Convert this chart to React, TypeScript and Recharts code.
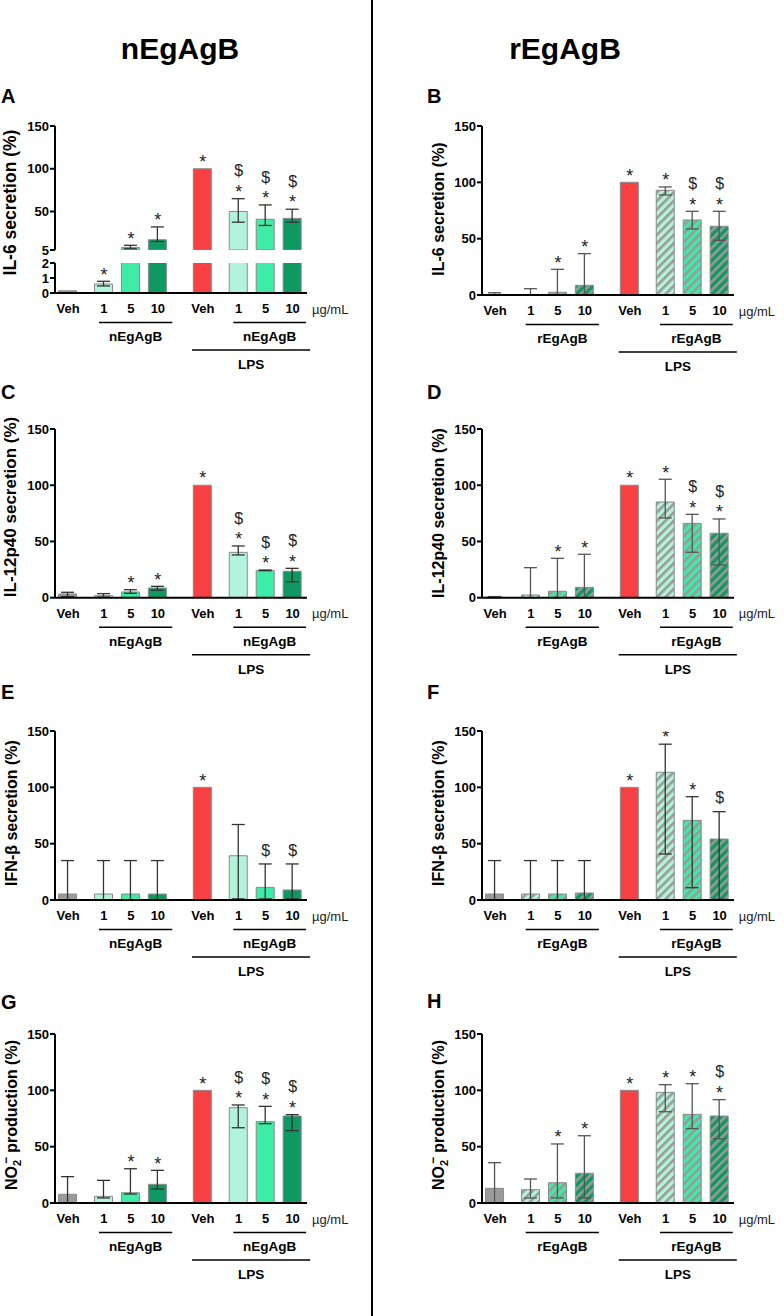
import React from "react";
import { ComposedChart, Bar, XAxis, YAxis, ErrorBar, Scatter, Cell } from "recharts";

const FONT = "Arial, 'Liberation Sans', Helvetica, sans-serif";

// x categories (same for every panel)
const categories = ["Veh", "1", "5", "10", "Veh", "1", "5", "10"];

// A - IL-6, nEgAgB
const il6N = [0.15, 0.6, 8, 17, 100, 50, 41, 42];
const il6NLow = [null, 0.47, 6.5, 15, null, 37.5, 33.7, 37.5];
const il6NHigh = [null, 0.78, 10.5, 32, null, 65, 57.7, 52.7];
const il6NMarks = ["", "*", "*", "*", "*", "$*", "$*", "$*"];

// B - IL-6, rEgAgB
const il6R = [0.5, 0.5, 2.4, 8.6, 100, 92.9, 66.6, 61];
const il6RLow = [0, 0, 0, 0, null, 88.8, 58.6, 48.5];
const il6RHigh = [2, 5.6, 22.8, 36.7, null, 95.9, 74.3, 74.3];
const il6RMarks = ["", "", "*", "*", "*", "*", "$*", "$*"];

// C - IL-12p40, nEgAgB
const il12N = [3.3, 1.8, 5.1, 8.6, 100, 40.3, 24.3, 23.5];
const il12NLow = [1, 0.5, 3.9, 6.6, null, 38, 24, 14.2];
const il12NHigh = [4.8, 3.6, 7.1, 10.1, null, 46, 24.6, 26.1];
const il12NMarks = ["", "", "*", "*", "*", "$*", "$*", "$*"];

// D - IL-12p40, rEgAgB
const il12R = [0.5, 2.4, 5.7, 9.2, 100, 85.1, 66.1, 57.3];
const il12RLow = [0, 0, 0, 0, null, 70.9, 40.4, 29.1];
const il12RHigh = [1, 26.7, 35, 38.6, null, 105.3, 74.1, 70];
const il12RMarks = ["", "", "*", "*", "*", "*", "$*", "$*"];

// E - IFN-beta, nEgAgB
const ifnN = [5.3, 5.3, 5.3, 5.3, 100, 39.3, 11.2, 8.9];
const ifnNLow = [0, 0, 0, 0, null, 1, 1, 1];
const ifnNHigh = [35, 35, 35, 35, null, 67, 32, 32];
const ifnNMarks = ["", "", "", "", "*", "", "$", "$"];

// F - IFN-beta, rEgAgB
const ifnR = [5.3, 5.3, 5.3, 6.2, 100, 113.4, 70.7, 54.1];
const ifnRLow = [0, 0, 0, 0, null, 40.8, 10.9, 0.6];
const ifnRHigh = [35, 35, 35, 35, null, 138.3, 91.7, 78.4];
const ifnRMarks = ["", "", "", "", "*", "*", "*", "$"];

// G - NO2-, nEgAgB
const no2N = [7.7, 5.9, 9.1, 16.6, 100, 84.6, 72.2, 77.2];
const no2NLow = [0, 4.5, 8, 12.4, null, 66.8, 70.4, 64.2];
const no2NHigh = [23.4, 20.1, 30.4, 29, null, 87, 85.8, 78.4];
const no2NMarks = ["", "", "*", "*", "*", "$*", "$*", "$*"];

// H - NO2-, rEgAgB
const no2R = [13, 11.8, 18, 26.4, 100, 98.2, 78.7, 77.2];
const no2RLow = [0, 4.4, 4.5, 4.5, null, 81, 66, 57];
const no2RHigh = [35.8, 21.3, 52.4, 59.7, null, 105, 105.9, 91.7];
const no2RMarks = ["", "", "*", "*", "*", "*", "*", "$*"];

// layout
const SLOTS = [0, 4, 7, 10, 15, 19, 22, 25];
const X_DOMAIN: [number, number] = [-1.45, 26.6];
const LEFT_X = 55;
const RIGHT_X = 481.7;
const PLOT_W = 252;
const YW = 55;
const MT = 45;
const MR = 4;
const XH = 30;

const GREY = "#9b9b9b";
const RED = "#f74143";
const C1 = "#b2f3db";
const C5 = "#3eeca8";
const C10 = "#0e9963";
const STRIPE = "#9a9a9a";

const leftFills = [GREY, C1, C5, C10, RED, C1, C5, C10];
const rightFills = [GREY, "url(#st1)", "url(#st5)", "url(#st10)", RED, "url(#st1)", "url(#st5)", "url(#st10)"];

type Row = {
  slot: number;
  value: number | null;
  err: [number, number] | null;
  markY: number | null;
  mark: string;
};

function buildRows(values: number[], low: (number | null)[], high: (number | null)[], marks: string[]): Row[] {
  return values.map((v, i) => {
    const lo = low[i];
    const hi = high[i];
    return {
      slot: SLOTS[i],
      value: v,
      err: lo == null || hi == null ? null : [v - lo, hi - v],
      markY: marks[i] ? Math.max(v, hi ?? v) : null,
      mark: marks[i],
    };
  });
}

function slotPx(axisX: number, s: number) {
  return axisX + ((s - X_DOMAIN[0]) / (X_DOMAIN[1] - X_DOMAIN[0])) * PLOT_W;
}

const STAR_FS = 18;
const DOL_FS = 16;

function MarkShape(props: any) {
  const { cx, cy, payload } = props;
  if (!payload || !payload.mark || cx == null || cy == null || isNaN(cy)) return <g />;
  const m: string = payload.mark;
  const hasStar = m.includes("*");
  const hasDollar = m.includes("$");
  const starC = cy - 11;
  const dolC = hasStar ? starC - 17 : cy - 14;
  return (
    <g fill="#222" fontFamily={FONT} textAnchor="middle">
      {hasStar && (
        <text x={cx} y={starC + 0.57 * STAR_FS} fontSize={STAR_FS}>
          *
        </text>
      )}
      {hasDollar && (
        <text x={cx} y={dolC + 0.36 * DOL_FS} fontSize={DOL_FS}>
          $
        </text>
      )}
    </g>
  );
}

type PanelProps = {
  axisX: number;
  yTop: number;
  yBottom: number;
  domain: [number, number];
  ticks: number[];
  rows: Row[];
  fills: string[];
  errColor: string;
  showX?: boolean;
};

function BarPanel({ axisX, yTop, yBottom, domain, ticks, rows, fills, errColor, showX = true }: PanelProps) {
  const plotH = yBottom - yTop;
  const xh = showX ? XH : 0;
  const mb = showX ? 0 : 10;
  const tickStyle = { fill: "#000", fontSize: 13, fontWeight: 700, fontFamily: FONT };
  return (
    <div style={{ position: "absolute", left: axisX - YW, top: yTop - MT }}>
      <ComposedChart
        width={YW + PLOT_W + MR}
        height={MT + plotH + xh + mb}
        data={rows}
        margin={{ top: MT, right: MR, left: 0, bottom: mb }}
      >
        <XAxis
          dataKey="slot"
          type="number"
          domain={X_DOMAIN}
          allowDataOverflow
          ticks={SLOTS}
          interval={0}
          tickFormatter={(v: number) => categories[SLOTS.indexOf(v)] ?? ""}
          hide={!showX}
          height={xh}
          axisLine={{ stroke: "#000", strokeWidth: 2 }}
          tickLine={false}
          tickSize={6}
          tickMargin={5}
          tick={tickStyle}
        />
        <YAxis
          type="number"
          domain={domain}
          ticks={ticks}
          interval={0}
          allowDataOverflow
          width={YW}
          axisLine={{ stroke: "#000", strokeWidth: 2 }}
          tickLine={{ stroke: "#000", strokeWidth: 2 }}
          tickSize={5}
          tickMargin={1}
          tick={tickStyle}
        />
        <Bar dataKey="value" barSize={18} isAnimationActive={false} stroke="#8a8a8a" strokeWidth={1}>
          {rows.map((r, i) => (
            <Cell key={i} fill={fills[i]} />
          ))}
          <ErrorBar dataKey="err" width={6.5} stroke={errColor} strokeWidth={1.3} isAnimationActive={false} />
        </Bar>
        <Scatter dataKey="markY" shape={MarkShape} isAnimationActive={false} />
      </ComposedChart>
    </div>
  );
}

function GroupDecor({ axisX, axisY, label }: { axisX: number; axisY: number; label: string }) {
  const g1 = [slotPx(axisX, 3.45), slotPx(axisX, 11.6)];
  const g2 = [slotPx(axisX, 18.4), slotPx(axisX, 26.5)];
  const lps = [slotPx(axisX, 13.8), slotPx(axisX, 26.95)];
  const end = axisX + PLOT_W;
  const txt = { fontFamily: FONT, fontSize: 13.5, fontWeight: 700, fill: "#000", textAnchor: "middle" as const };
  return (
    <g>
      <text x={end + 5} y={axisY + 16 + 4.7} fontFamily={FONT} fontSize={13} fill="#222">
        µg/mL
      </text>
      <line x1={g1[0]} x2={g1[1]} y1={axisY + 29.5} y2={axisY + 29.5} stroke="#000" strokeWidth={1.5} />
      <line x1={g2[0]} x2={g2[1]} y1={axisY + 29.5} y2={axisY + 29.5} stroke="#000" strokeWidth={1.5} />
      <text x={(g1[0] + g1[1]) / 2} y={axisY + 43.5 + 4.9} {...txt}>
        {label}
      </text>
      <text x={(g2[0] + g2[1]) / 2} y={axisY + 43.5 + 4.9} {...txt}>
        {label}
      </text>
      <line x1={lps[0]} x2={lps[1]} y1={axisY + 57} y2={axisY + 57} stroke="#000" strokeWidth={1.5} />
      <text x={(lps[0] + lps[1]) / 2} y={axisY + 71 + 4.9} {...txt}>
        LPS
      </text>
    </g>
  );
}

function YTitle({ x, y, size, children }: { x: number; y: number; size: number; children: React.ReactNode }) {
  const bx = x + 0.36 * size;
  return (
    <text
      transform={`translate(${bx},${y}) rotate(-90)`}
      textAnchor="middle"
      fontFamily={FONT}
      fontWeight={700}
      fontSize={size}
      fill="#000"
    >
      {children}
    </text>
  );
}

function Letter({ x, y, children }: { x: number; y: number; children: string }) {
  return (
    <text x={x} y={y + 7.2} fontFamily={FONT} fontWeight={700} fontSize={20} fill="#000">
      {children}
    </text>
  );
}

function No2Title() {
  return (
    <>
      <tspan>NO</tspan>
      <tspan dy={4} fontSize={11}>2</tspan>
      <tspan dy={-11} dx={-4} fontSize={12}>{"\u2212"}</tspan>
      <tspan dy={7} dx={4}>{"production (%)"}</tspan>
    </>
  );
}

export default function App() {
  const rowsA = buildRows(il6N, il6NLow, il6NHigh, il6NMarks);
  const rowsATop: Row[] = rowsA.map((r) =>
    (r.value ?? 0) >= 5 ? r : { ...r, value: null, err: null, markY: null, mark: "" }
  );
  const rowsABottom: Row[] = rowsA.map((r) =>
    (r.value ?? 0) > 2 ? { ...r, err: null, markY: null, mark: "" } : r
  );
  const rowsB = buildRows(il6R, il6RLow, il6RHigh, il6RMarks);
  const rowsC = buildRows(il12N, il12NLow, il12NHigh, il12NMarks);
  const rowsD = buildRows(il12R, il12RLow, il12RHigh, il12RMarks);
  const rowsE = buildRows(ifnN, ifnNLow, ifnNHigh, ifnNMarks);
  const rowsF = buildRows(ifnR, ifnRLow, ifnRHigh, ifnRMarks);
  const rowsG = buildRows(no2N, no2NLow, no2NHigh, no2NMarks);
  const rowsH = buildRows(no2R, no2RLow, no2RHigh, no2RMarks);

  const full: [number, number] = [0, 150];
  const fullTicks = [0, 50, 100, 150];
  const L_ERR = "#333";
  const R_ERR = "#555";

  return (
    <div
      style={{
        position: "absolute",
        left: 0,
        top: 0,
        width: 784,
        height: 1316,
        background: "#fff",
        overflow: "hidden",
      }}
    >
      <svg width={784} height={1316} style={{ position: "absolute", left: 0, top: 0 }}>
        <defs>
          {[
            ["st1", C1],
            ["st5", C5],
            ["st10", C10],
          ].map(([id, c]) => (
            <pattern key={id} id={id} patternUnits="userSpaceOnUse" width={6} height={6} patternTransform="rotate(45)">
              <rect width={6} height={6} fill={c} />
              <rect width={2.6} height={6} fill={STRIPE} />
            </pattern>
          ))}
        </defs>
        <line x1={372} x2={372} y1={0} y2={1316} stroke="#000" strokeWidth={2} />
        <text x={180} y={59} textAnchor="middle" fontFamily={FONT} fontWeight={700} fontSize={30} fill="#000">
          nEgAgB
        </text>
        <text x={565} y={59} textAnchor="middle" fontFamily={FONT} fontWeight={700} fontSize={30} fill="#000">
          rEgAgB
        </text>
        <Letter x={1} y={96}>A</Letter>
        <Letter x={427} y={96}>B</Letter>
        <Letter x={1} y={392}>C</Letter>
        <Letter x={427} y={392}>D</Letter>
        <Letter x={1} y={692}>E</Letter>
        <Letter x={427} y={692}>F</Letter>
        <Letter x={1} y={1002}>G</Letter>
        <Letter x={427} y={1001}>H</Letter>

        <YTitle x={10} y={202.5} size={17.5}>IL-6 secretion (%)</YTitle>
        <YTitle x={438.5} y={209} size={16}>IL-6 secretion (%)</YTitle>
        <YTitle x={10} y={507} size={17}>IL-12p40 secretion (%)</YTitle>
        <YTitle x={438.5} y={513} size={16}>IL-12p40 secretion (%)</YTitle>
        <YTitle x={11} y={813} size={16}>IFN-β secretion (%)</YTitle>
        <YTitle x={438} y={813} size={16}>IFN-β secretion (%)</YTitle>
        <YTitle x={11} y={1115} size={16}>
          <No2Title />
        </YTitle>
        <YTitle x={438} y={1115} size={16}>
          <No2Title />
        </YTitle>

        <GroupDecor axisX={LEFT_X} axisY={293} label="nEgAgB" />
        <GroupDecor axisX={RIGHT_X} axisY={295} label="rEgAgB" />
        <GroupDecor axisX={LEFT_X} axisY={597.7} label="nEgAgB" />
        <GroupDecor axisX={RIGHT_X} axisY={597.7} label="rEgAgB" />
        <GroupDecor axisX={LEFT_X} axisY={900} label="nEgAgB" />
        <GroupDecor axisX={RIGHT_X} axisY={900} label="rEgAgB" />
        <GroupDecor axisX={LEFT_X} axisY={1203} label="nEgAgB" />
        <GroupDecor axisX={RIGHT_X} axisY={1203} label="rEgAgB" />
      </svg>

      {/* A: broken y axis */}
      <BarPanel axisX={LEFT_X} yTop={126} yBottom={250} domain={[5, 150]} ticks={[5, 50, 100, 150]} rows={rowsATop} fills={leftFills} errColor={L_ERR} showX={false} />
      <BarPanel axisX={LEFT_X} yTop={263} yBottom={293} domain={[0, 2]} ticks={[0, 1, 2]} rows={rowsABottom} fills={leftFills} errColor={L_ERR} />
      <BarPanel axisX={RIGHT_X} yTop={126} yBottom={295} domain={full} ticks={fullTicks} rows={rowsB} fills={rightFills} errColor={R_ERR} />

      <BarPanel axisX={LEFT_X} yTop={429} yBottom={597.7} domain={full} ticks={fullTicks} rows={rowsC} fills={leftFills} errColor={L_ERR} />
      <BarPanel axisX={RIGHT_X} yTop={429} yBottom={597.7} domain={full} ticks={fullTicks} rows={rowsD} fills={rightFills} errColor={R_ERR} />

      <BarPanel axisX={LEFT_X} yTop={731} yBottom={900} domain={full} ticks={fullTicks} rows={rowsE} fills={leftFills} errColor={L_ERR} />
      <BarPanel axisX={RIGHT_X} yTop={731} yBottom={900} domain={full} ticks={fullTicks} rows={rowsF} fills={rightFills} errColor={L_ERR} />

      <BarPanel axisX={LEFT_X} yTop={1034} yBottom={1203} domain={full} ticks={fullTicks} rows={rowsG} fills={leftFills} errColor={L_ERR} />
      <BarPanel axisX={RIGHT_X} yTop={1034} yBottom={1203} domain={full} ticks={fullTicks} rows={rowsH} fills={rightFills} errColor={R_ERR} />
    </div>
  );
}
